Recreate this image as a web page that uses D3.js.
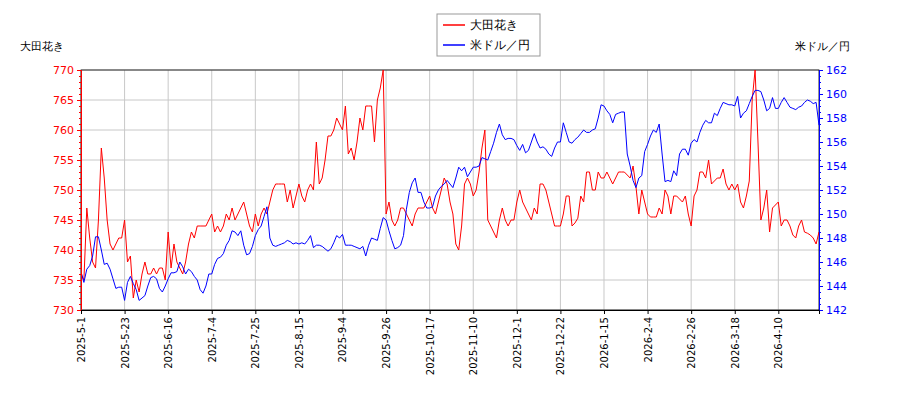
<!DOCTYPE html>
<html><head><meta charset="utf-8">
<script src="https://cdn.jsdelivr.net/npm/d3@7"></script>
<style>body{margin:0;background:#fff}text{font-family:"DejaVu Sans",sans-serif}</style>
</head><body><svg id="c" width="900" height="400"></svg>
<script>
const tickLabels=["2025-5-1","2025-5-23","2025-6-16","2025-7-4","2025-7-25","2025-8-15","2025-9-4","2025-9-26","2025-10-17","2025-11-10","2025-12-1","2025-12-22","2026-1-15","2026-2-4","2026-2-26","2026-3-18","2026-4-10"];
const stockName="大田花き", fxName="米ドル／円";
const stock=[736,735,747,742,
738,737,745,757,752,
745,741,740,741,
742,742,745,738,739,
732,735,733,736,738,
736,736,737,736,737,
737,735,743,737,741,
738,737,736,738,741,
743,742,744,744,744,
744,745,746,743,744,
743,744,746,745,747,
745,746,747,748,746,
744,743,746,744,746,
747,746,748,750,751,
751,751,751,748,750,
747,749,751,749,748,
750,751,750,758,751,
752,755,759,759,760,
762,761,760,764,756,
757,755,758,762,760,
764,764,764,758,765,
767,770,746,748,745,
744,745,747,747,746,
745,744,746,747,747,
747,748,749,747,746,
748,750,752,751,748,
746,741,740,744,751,
752,751,749,750,753,
757,760,745,744,743,
742,745,747,745,744,
745,745,748,750,748,
747,746,745,747,746,
751,751,750,748,746,
744,744,744,746,749,
749,
744,744.5,745.3,749,748,753,753,750,750,753,
752,752,753,752,751,752,753,753,753,752.5,
752,754,750.6,746,750,748,746,745.5,745.5,745.5,
747,746,750,749,746,749,749,748.5,748,749,
746,744,749,750,753,753,752,755,751,751.5,
752,752,753.5,751,750,751,750,751,748,747,
749,751.5,765,770,758,745,747,750,743,747,
747.5,748,744,745,745,744,742.5,742,744,745,
743,742.8,742.5,742,741,743];
const fx=[145.2,144.3,145.4,145.7,146.5,148.1,148.1,147,145.8,145.9,
145.4,144.6,143.8,143.9,143.9,142.8,144.3,144.8,144.2,143.7,
142.8,143,143.2,144,144.7,144.8,144.6,143.8,143.5,144,
144.6,145.1,145.1,145.2,146,145.6,145,145.4,145.2,144.8,
144.5,143.7,143.4,144,145,145,145.8,146.3,146.4,146.7,
147.4,147.8,148.6,148.5,148.2,148.6,147.4,146.6,146.7,147.3,
148.2,148.7,149,149.8,150.6,148,147.4,147.3,147.4,147.5,
147.6,147.8,147.7,147.5,147.6,147.5,147.6,147.5,147.8,148.2,
147.2,147.4,
147.4,147.3,147.1,146.9,147.1,147.6,148.2,148,148.3,147.4,
147.4,147.4,147.3,147.2,147.1,147.3,146.5,147.4,148,147.9,
147.8,148.8,149.7,149.5,148.6,147.8,147.1,147.2,147.4,148.2,
150.4,151.8,152.6,153,151.8,151.8,151,150.5,150.5,150.6,
151.5,152,152.3,152.5,152.8,152.5,152.2,153,153.9,153.6,
153.9,153.1,153.5,153.9,153.9,154,154.7,154.6,154.5,155.2,
155.9,156.8,157.5,156.6,156.2,156.3,156.3,156.2,155.7,155.3,
155.8,155.1,155.3,156,156.7,156,155.5,155.6,155.4,155,
154.8,155.5,156,156,157.6,156.8,156,
155.9,156.2,156.4,156.7,157,156.8,156.8,157,157.1,158,
159.1,159,158.6,158.3,157.6,158.3,158.4,158.5,158.5,155,
154,152.8,152.2,153,153.2,155.2,155.8,156.5,157,156.8,
157.5,155,152.7,152.8,152.7,153.6,153.2,155,155.4,155.4,
154.9,155.9,156.2,156,156.8,157.4,157.8,157.6,157.6,158.4,
158.2,158.8,159.3,159.2,159.1,159.1,159,159.8,158,158.4,
158.6,159.2,159.8,160.3,160.3,160.2,159.5,158.6,158.8,159.7,
158.8,158.8,159.3,159.7,159.3,158.9,158.8,158.7,158.9,159,
159.3,159.5,159.4,159.2,159.3,157.4];
const leftTicks=[730,735,740,745,750,755,760,765,770];
const rightTicks=[142,144,146,148,150,152,154,156,158,160,162];

const svg=d3.select("#c");
const L=81,R=819,T=70,B=310;
const x=d3.scaleLinear().domain([0,254]).range([L,R]);
const yL=d3.scaleLinear().domain([730,770]).range([B,T]);
const yR=d3.scaleLinear().domain([142,162]).range([B,T]);
svg.append("rect").attr("x",L).attr("y",T).attr("width",R-L).attr("height",B-T).attr("fill","#fff");
const g=svg.append("g");
tickLabels.forEach((t,i)=>g.append("line").attr("x1",x(i*15)).attr("x2",x(i*15)).attr("y1",T).attr("y2",B).attr("stroke","#c8c8c8"));
leftTicks.forEach(v=>g.append("line").attr("x1",L).attr("x2",R).attr("y1",yL(v)).attr("y2",yL(v)).attr("stroke","#c8c8c8"));
svg.append("rect").attr("x",L).attr("y",T).attr("width",R-L).attr("height",B-T).attr("fill","none").attr("stroke","#000").attr("stroke-width",0.8);

svg.append("clipPath").attr("id","cp").append("rect").attr("x",L).attr("y",T).attr("width",R-L).attr("height",B-T);
const lineS=d3.line().x((d,i)=>x(i)).y(d=>yL(d));
const lineF=d3.line().x((d,i)=>x(i)).y(d=>yR(d));
svg.append("path").attr("d",lineS(stock)).attr("fill","none").attr("stroke","red").attr("stroke-width",1).attr("clip-path","url(#cp)");
svg.append("path").attr("d",lineF(fx)).attr("fill","none").attr("stroke","blue").attr("stroke-width",1).attr("clip-path","url(#cp)");

const la=svg.append("g").attr("transform",`translate(${L},0)`).call(d3.axisLeft(yL).tickValues(leftTicks).tickSize(4).tickSizeOuter(0).tickFormat(d3.format("d")));
la.selectAll("path,line").attr("stroke","red");la.selectAll("text").attr("fill","red").attr("font-size",11);
la.call(g=>g.append("g").call(d3.axisLeft(yL).ticks(40).tickSize(2).tickFormat("")).selectAll("path,line").attr("stroke","red"));
const ra=svg.append("g").attr("transform",`translate(${R},0)`).call(d3.axisRight(yR).tickValues(rightTicks).tickSize(4).tickSizeOuter(0));
ra.selectAll("path,line").attr("stroke","blue");ra.selectAll("text").attr("fill","blue").attr("font-size",11);
ra.call(g=>g.append("g").call(d3.axisRight(yR).ticks(40).tickSize(2).tickFormat("")).selectAll("path,line").attr("stroke","blue"));
const xa=svg.append("g").attr("transform",`translate(0,${B})`).call(d3.axisBottom(x).tickValues(tickLabels.map((t,i)=>i*15)).tickSize(4).tickFormat((d,i)=>tickLabels[i]));
xa.select("path").attr("stroke","#000");
xa.selectAll("text").attr("font-size",10).attr("transform","rotate(-90)").attr("text-anchor","end").attr("dx",0).attr("dy","0.35em").attr("x",-7).attr("y",0);

svg.append("text").attr("x",20).attr("y",50).attr("font-size",11).text(stockName);
svg.append("text").attr("x",850).attr("y",50).attr("font-size",11).attr("text-anchor","end").text(fxName);
const lg=svg.append("g");
lg.append("rect").attr("x",437).attr("y",14).attr("width",103).attr("height",42).attr("fill","#fff").attr("stroke","#999");
lg.append("line").attr("x1",443).attr("x2",465).attr("y1",25).attr("y2",25).attr("stroke","red").attr("stroke-width",1.5);
lg.append("line").attr("x1",443).attr("x2",465).attr("y1",45).attr("y2",45).attr("stroke","blue").attr("stroke-width",1.5);
lg.append("text").attr("x",470).attr("y",29).attr("font-size",12).text(stockName);
lg.append("text").attr("x",470).attr("y",49).attr("font-size",12).text(fxName);
</script></body></html>
